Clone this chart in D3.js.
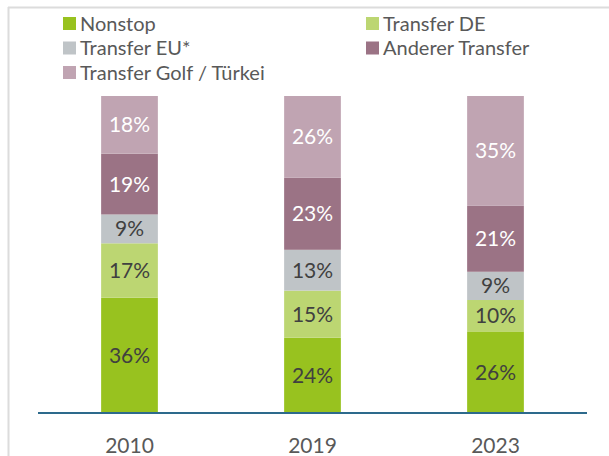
<!DOCTYPE html>
<html>
<head>
<meta charset="utf-8">
<script src="https://cdn.jsdelivr.net/npm/d3@7"></script>
<style>
  body { margin: 0; background: #fff; }
  svg { display: block; font-family: Lato, "Noto Sans", sans-serif; }
</style>
</head>
<body>
<div id="chart"></div>
<script>
// data (shares in %)
var years = ["2010", "2019", "2023"];
var seriesNames = ["Nonstop", "Transfer DE", "Transfer EU*", "Anderer Transfer", "Transfer Golf / Türkei"];
var nonstop = [36, 24, 26];
var transferDE = [17, 15, 10];
var transferEU = [9, 13, 9];
var andererTransfer = [19, 23, 21];
var transferGolf = [18, 26, 35];

var colors = ["#98c21f", "#bcd672", "#bfc4c7", "#9b7385", "#c0a4b2"];
var labelColors = ["#404040", "#404040", "#404040", "#ffffff", "#ffffff"];

var width = 609,
    height = 456;

var svg = d3.select("#chart")
    .append("svg")
    .attr("width", width)
    .attr("height", height);

// light frame on top and left
svg.append("line")
    .attr("x1", 8).attr("x2", width).attr("y1", 7.5).attr("y2", 7.5)
    .attr("stroke", "#dcdcdc").attr("stroke-width", 2);
svg.append("line")
    .attr("x1", 8.5).attr("x2", 8.5).attr("y1", 7).attr("y2", height)
    .attr("stroke", "#dcdcdc").attr("stroke-width", 2);

// build table for the stack
var table = years.map(function (y, i) {
    return {
        year: y,
        "Nonstop": nonstop[i],
        "Transfer DE": transferDE[i],
        "Transfer EU*": transferEU[i],
        "Anderer Transfer": andererTransfer[i],
        "Transfer Golf / Türkei": transferGolf[i]
    };
});

var stacked = d3.stack()
    .keys(seriesNames)
    .offset(d3.stackOffsetExpand)(table);

var x = d3.scaleBand()
    .domain(years)
    .range([38, 587])
    .paddingInner(0.69)
    .paddingOuter(0.345);

var y = d3.scaleLinear()
    .domain([0, 1])
    .range([413, 96]);

var layers = svg.selectAll("g.layer")
    .data(stacked)
    .enter()
    .append("g")
    .attr("class", "layer")
    .attr("fill", function (d, i) { return colors[i]; });

layers.selectAll("rect")
    .data(function (d) { return d; })
    .enter()
    .append("rect")
    .attr("x", function (d) { return x(d.data.year); })
    .attr("y", function (d) { return y(d[1]); })
    .attr("width", x.bandwidth())
    .attr("height", function (d) { return y(d[0]) - y(d[1]); });

layers.each(function (layer, i) {
    d3.select(this).selectAll("text")
        .data(layer)
        .enter()
        .append("text")
        .attr("x", function (d) { return x(d.data.year) + x.bandwidth() / 2; })
        .attr("y", function (d) { return (y(d[0]) + y(d[1])) / 2; })
        .attr("dy", "0.36em")
        .attr("text-anchor", "middle")
        .attr("fill", labelColors[i])
        .style("font-size", "21px")
        .text(function (d) { return d.data[layer.key] + "%"; });
});

// x axis baseline and year labels
svg.append("line")
    .attr("x1", x.range()[0]).attr("x2", x.range()[1])
    .attr("y1", y(0)).attr("y2", y(0))
    .attr("stroke", "#2d6a8c").attr("stroke-width", 2);

svg.selectAll("text.year")
    .data(years)
    .enter()
    .append("text")
    .attr("class", "year")
    .attr("x", function (d) { return x(d) + x.bandwidth() / 2; })
    .attr("y", 453)
    .attr("text-anchor", "middle")
    .attr("fill", "#595959")
    .style("font-size", "21px")
    .text(function (d) { return d; });

// legend, two columns
var legend = svg.selectAll("g.legend")
    .data(seriesNames)
    .enter()
    .append("g")
    .attr("class", "legend")
    .attr("transform", function (d, i) {
        return "translate(" + (i % 2 === 0 ? 63 : 366) + "," + (17 + Math.floor(i / 2) * 24.5) + ")";
    });

legend.append("rect")
    .attr("width", 13)
    .attr("height", 13)
    .attr("fill", function (d, i) { return colors[i]; });

legend.append("text")
    .attr("x", 17)
    .attr("y", 6.5)
    .attr("dy", "0.36em")
    .attr("fill", "#595959")
    .style("font-size", "20px")
    .text(function (d) { return d; });
</script>
</body>
</html>
